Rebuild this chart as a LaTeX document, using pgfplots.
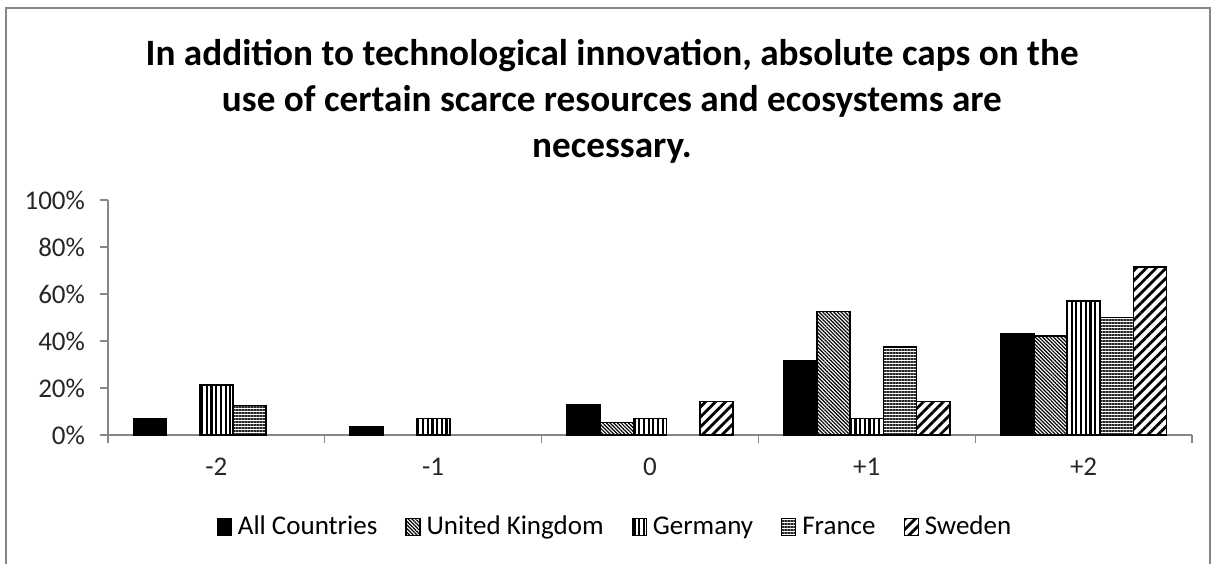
\documentclass[border=0pt]{standalone}
\usepackage{fontspec}
\setmainfont{Carlito}
\usepackage{pgfplots}
\pgfplotsset{compat=1.18}
\usetikzlibrary{patterns.meta}
\definecolor{axgray}{RGB}{134,134,134}

\begin{document}
\begin{tikzpicture}
\path[use as bounding box] (0,0) rectangle (607.5pt,281.5pt);
\draw[axgray,line width=1.2pt] (3pt,-2pt) -- (3pt,277.5pt) -- (605pt,277.5pt) -- (605pt,-2pt);
\node[align=center,font=\fontsize{18.6}{23}\selectfont\bfseries] at (306pt,231pt)
  {In addition to technological innovation, absolute caps on the\\
   use of certain scarce resources and ecosystems are\\
   necessary.};
\begin{axis}[
  at={(54pt,64pt)},anchor=south west,
  scale only axis,width=542pt,height=117.5pt,
  ybar=0pt,bar width=16.6pt,
  xmin=-0.5,xmax=4.5,ymin=0,ymax=100,
  xtick={0,1,2,3,4},xticklabels={-2,-1,0,+1,+2},
  minor xtick={-0.5,0.5,1.5,2.5,3.5,4.5},
  major x tick style={draw=none},
  ytick={0,20,40,60,80,100},
  yticklabels={0\%,20\%,40\%,60\%,80\%,100\%},
  tick align=outside,major tick length=4pt,minor tick length=4pt,
  tick style={axgray,line width=0.6pt},
  axis x line*=bottom,axis y line*=left,
  axis line style={axgray,line width=0.6pt},
  ticklabel style={font=\fontsize{13.5}{16}\selectfont,text=black!85},
  xticklabel style={yshift=-4pt},
  yticklabel style={xshift=-4pt},
  legend columns=5,
  legend style={draw=none,at={(0.4686,-0.391)},anchor=center,
    font=\fontsize{13.5}{16}\selectfont,
    /tikz/every odd column/.append style={column sep=1pt},
    /tikz/every even column/.append style={column sep=12pt}},
  legend image code/.code={\draw[#1,line width=0.6pt] (0pt,-4.2pt) rectangle (7pt,4.2pt);},
  every axis plot/.append style={draw=black,line width=0.8pt},
]
\addplot[fill=black] coordinates {(0,7.1)(1,3.3)(2,13.0)(3,31.6)(4,43.0)};
\addlegendentry{All Countries}
\addplot[pattern={Lines[angle=-45,distance=1.3pt,line width=0.6pt]},pattern color=black] coordinates {(2,5.3)(3,52.6)(4,42.1)};
\addlegendentry{United Kingdom}
\addplot[pattern={Lines[angle=90,distance=2.35pt,line width=1.1pt]},pattern color=black] coordinates {(0,21.4)(1,7.1)(2,7.1)(3,7.1)(4,57.1)};
\addlegendentry{Germany}
\addplot[pattern={Lines[angle=0,distance=1.5pt,line width=0.75pt]},pattern color=black!85] coordinates {(0,12.5)(3,37.5)(4,50.0)};
\addlegendentry{France}
\addplot[pattern={Lines[angle=45,distance=3.5pt,line width=1.4pt]},pattern color=black] coordinates {(2,14.3)(3,14.3)(4,71.4)};
\addlegendentry{Sweden}
\end{axis}
\end{tikzpicture}
\end{document}
